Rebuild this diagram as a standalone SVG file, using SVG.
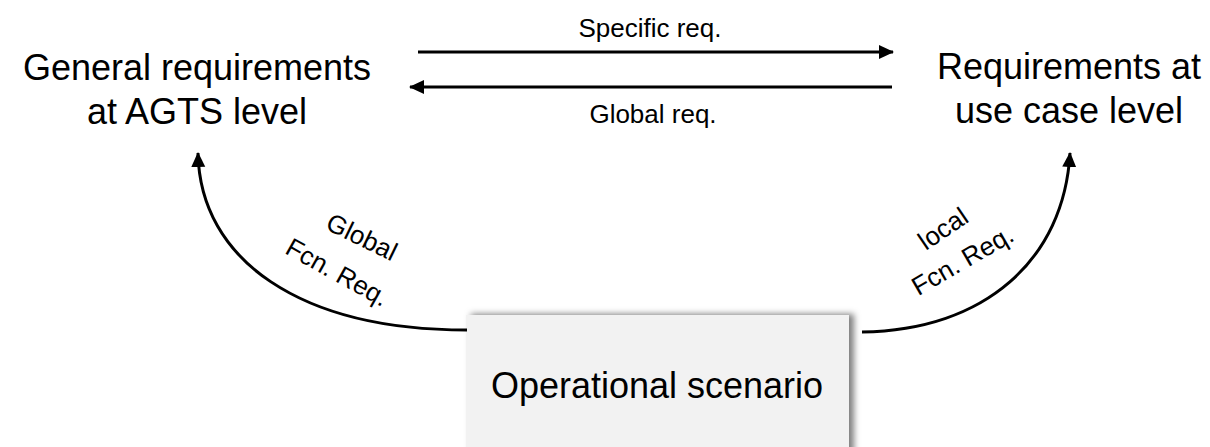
<svg xmlns="http://www.w3.org/2000/svg" width="1210" height="447" viewBox="0 0 1210 447">
<style>
.big{font-family:"Liberation Sans",Arial,sans-serif;font-size:36px;fill:#000;text-anchor:middle}
.lbl{font-family:"Liberation Sans",Arial,sans-serif;font-size:26px;fill:#000;text-anchor:middle}
.conn{fill:none;stroke:#000;stroke-width:3}
</style>
<defs>
<marker id="ah" markerUnits="userSpaceOnUse" markerWidth="16" markerHeight="16" viewBox="0 0 16 16" refX="14" refY="8" orient="auto">
<path d="M0,1 L15,8 L0,15 Z" fill="#000"/>
</marker>
<filter id="sh" x="-5%" y="-10%" width="115%" height="130%">
<feDropShadow dx="5" dy="-1" stdDeviation="3" flood-color="#000" flood-opacity="0.5"/>
</filter>
</defs>
<rect width="1210" height="447" fill="#fff"/>
<g id="node-general">
<text class="big" x="197" y="80">General requirements</text>
<text class="big" x="197" y="124">at AGTS level</text>
</g>
<g id="node-usecase">
<text class="big" x="1069" y="79">Requirements at</text>
<text class="big" x="1069" y="123">use case level</text>
</g>
<g id="node-operational">
<rect x="466" y="315" width="383" height="150" fill="#f2f2f2" filter="url(#sh)"/>
<text class="big" x="657" y="398">Operational scenario</text>
</g>
<g id="connectors">
<path class="conn" d="M418,52 L893,52" marker-end="url(#ah)"/>
<path class="conn" d="M892,87 L410,87" marker-end="url(#ah)"/>
<path class="conn" d="M467,330 C300,330 200,260 198,153" marker-end="url(#ah)"/>
<path class="conn" d="M862,332 C985,330 1064,260 1070,153" marker-end="url(#ah)"/>
<text class="lbl" x="650" y="37">Specific req.</text>
<text class="lbl" x="653" y="123">Global req.</text>
<text class="lbl" transform="translate(358,245) rotate(26)">Global</text>
<text class="lbl" transform="translate(333,280) rotate(29)">Fcn. Req.</text>
<text class="lbl" transform="translate(948,236) rotate(-34)">local</text>
<text class="lbl" transform="translate(967,268) rotate(-30)">Fcn. Req.</text>
</g>
</svg>
